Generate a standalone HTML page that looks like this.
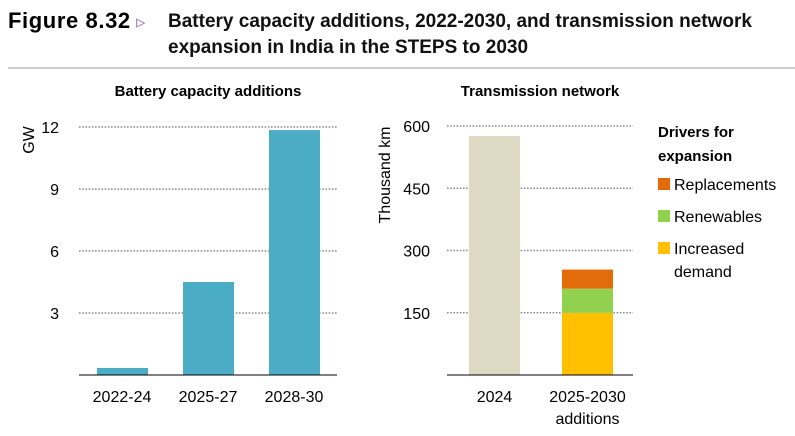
<!DOCTYPE html>
<html><head><meta charset="utf-8"><style>
body{margin:0;background:#fff;width:795px;height:431px;overflow:hidden;font-family:"Liberation Sans",sans-serif}
svg text{font-family:"Liberation Sans",sans-serif}
</style></head><body>
<svg width="795" height="431" xmlns="http://www.w3.org/2000/svg">
<text x="8" y="28" font-size="22" font-weight="bold" fill="#000" letter-spacing="0.6">Figure 8.32</text>
<text x="136" y="28" font-size="19" fill="#a27cc4">▹</text>
<text x="168" y="27" font-size="19" font-weight="bold" fill="#111">Battery capacity additions, 2022-2030, and transmission network</text>
<text x="168" y="53" font-size="19" font-weight="bold" fill="#111">expansion in India in the STEPS to 2030</text>
<line x1="8" y1="68" x2="795" y2="68" stroke="#bbb" stroke-width="1.5"/>
<text x="208" y="96" font-size="15" font-weight="bold" text-anchor="middle">Battery capacity additions</text>
<text x="540" y="96" font-size="15" font-weight="bold" text-anchor="middle">Transmission network</text>
<g id="left"></g>
<g id="right"></g>
<g>
<text x="658" y="137" font-size="15" font-weight="bold">Drivers for</text>
<text x="658" y="161" font-size="15" font-weight="bold">expansion</text>
<rect x="658" y="178" width="12" height="12" fill="#e36c0a"/>
<text x="674" y="190" font-size="16">Replacements</text>
<rect x="658" y="210" width="12" height="12" fill="#92d050"/>
<text x="674" y="222" font-size="16">Renewables</text>
<rect x="658" y="242" width="12" height="12" fill="#ffc000"/>
<text x="674" y="254" font-size="16">Increased</text>
<text x="674" y="277" font-size="16">demand</text>
</g>
</svg>
<script>
const batCats=["2022-24","2025-27","2028-30"];
const batVals=[0.34,4.5,11.85];
const batTicks=[3,6,9,12];
const tCats=[["2024"],["2025-2030","additions"]];
const tExisting=[576,0];
const tDemand=[0,150];
const tRenew=[0,58];
const tRepl=[0,46];
const tTicks=[150,300,450,600];
const NS="http://www.w3.org/2000/svg";
function mk(p,tag,a,txt){const e=document.createElementNS(NS,tag);for(const k in a)e.setAttribute(k,a[k]);if(txt!==undefined)e.textContent=txt;p.appendChild(e);return e;}
const base=375;
const L=document.getElementById('left');
const ly=v=>base-v*(248/12);
batTicks.forEach(t=>{
 const g=mk(L,'line',{x1:79,x2:337,y1:ly(t),y2:ly(t),stroke:'#8c8c8c','stroke-width':1.6,'stroke-dasharray':'1.6 1.6'});
 
 const tx=mk(L,'text',{x:59,y:ly(t)+6,'font-size':16,'text-anchor':'end'},t);
 
});
batVals.forEach((v,i)=>{
 const cx=122+i*86;
 const r=mk(L,'rect',{x:cx-25,y:ly(v),width:51,height:base-ly(v),fill:'#4bacc6'});
 
 const tx=mk(L,'text',{x:cx,y:402,'font-size':16,'text-anchor':'middle'},batCats[i]);
 
});
const la=mk(L,'line',{x1:79,x2:337,y1:base,y2:base,stroke:'#000','stroke-width':1});

const lt=mk(L,'text',{x:0,y:0,'font-size':16,'text-anchor':'middle',transform:'translate(34,140) rotate(-90)'},'GW');

const R=document.getElementById('right');
const ry=v=>base-v*(249/600);
tTicks.forEach(t=>{
 const g=mk(R,'line',{x1:447,x2:633,y1:ry(t),y2:ry(t),stroke:'#8c8c8c','stroke-width':1.6,'stroke-dasharray':'1.6 1.6'});
 
 const tx=mk(R,'text',{x:430,y:ry(t)+6,'font-size':16,'text-anchor':'end'},t);
 
});
tCats.forEach((c,i)=>{
 const cx=494.5+i*93;
 const segs=[[tExisting[i],'#ddd9c3','existing-bar'],[tDemand[i],'#ffc000','demand-segment'],[tRenew[i],'#92d050','renewables-segment'],[tRepl[i],'#e36c0a','replacements-segment']];
 let acc=0;
 segs.forEach(s=>{ if(s[0]<=0)return;
  const r=mk(R,'rect',{x:cx-25.5,y:ry(acc+s[0]),width:51,height:ry(acc)-ry(acc+s[0]),fill:s[1]});
  
  acc+=s[0];});
 c.forEach((l,j)=>{
  const tx=mk(R,'text',{x:cx,y:402+j*22,'font-size':16,'text-anchor':'middle'},l);
  
 });
});
const ra=mk(R,'line',{x1:447,x2:633,y1:base,y2:base,stroke:'#000','stroke-width':1});

const rt=mk(R,'text',{x:0,y:0,'font-size':16,'text-anchor':'middle',transform:'translate(390,175) rotate(-90)'},'Thousand km');

</script>
</body></html>
